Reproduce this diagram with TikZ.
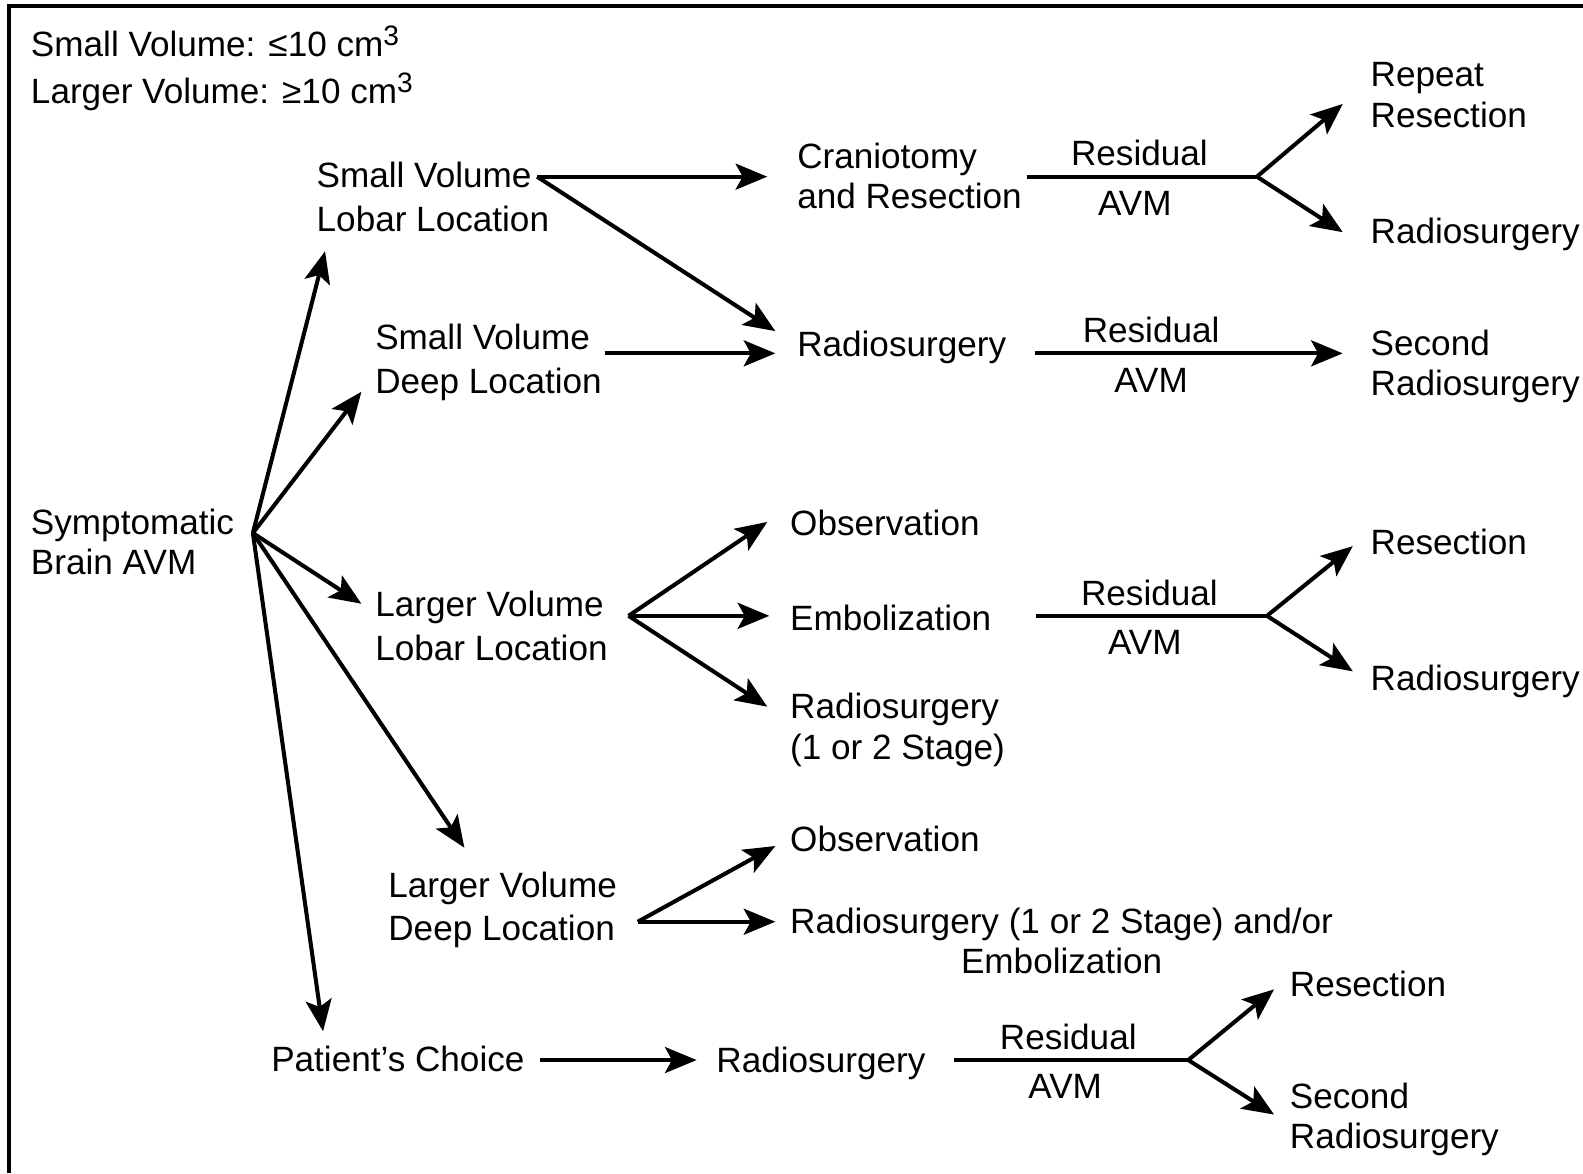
\documentclass[tikz,border=0pt]{standalone}
\usepackage{fontspec}
\setmainfont{Liberation Sans}
\usetikzlibrary{arrows.meta}
\tikzset{
    flow text/.style={
        inner sep=0pt, anchor=west, align=left,
        font=\fontsize{10}{11.5}\selectfont
    },
    wide spacing/.style={font=\fontsize{10}{12.3}\selectfont},
    flow label/.style={inner sep=0pt, font=\fontsize{10}{11.5}\selectfont},
    flow line/.style={line width=1.15pt},
    flow arrow/.style={
        line width=1.15pt,
        -{Stealth[length=9pt,width=7.4pt,inset=2pt]}
    }
}
\newcommand{\cubed}{\raisebox{0.55ex}{\fontsize{8}{8}\selectfont 3}}

\begin{document}
\begin{tikzpicture}[x=0.010096cm, y=-0.010096cm]
    \useasboundingbox (0,0) rectangle (1568,1162);
    \draw[line width=1.1pt] (9,1162) |- (1568,6);

    % legend
    \node[flow text] (small) at (30,41) {Small Volume: ≤10 cm\cubed};
    \node[flow text] (larger) at (30,91) {Larger Volume: ≥10 cm\cubed};

    % first level
    \node[flow text] (sba) at (30,537) {Symptomatic\\Brain AVM};
    \node[flow text, wide spacing] (svl) at (313,195) {Small Volume\\Lobar Location};
    \node[flow text, wide spacing] (svd) at (371,359) {Small Volume\\Deep Location};
    \node[flow text, wide spacing] (lvl) at (371,620) {Larger Volume\\Lobar Location};
    \node[flow text, wide spacing] (lvd) at (384,901) {Larger Volume\\Deep Location};
    \node[flow text] (pc) at (268,1049) {Patient’s Choice};

    % treatments
    \node[flow text] (cran) at (789,174) {Craniotomy\\and Resection};
    \node[flow text] (rs1) at (789,344) {Radiosurgery};
    \node[flow text] (obs1) at (782,518) {Observation};
    \node[flow text] (emb) at (782,612) {Embolization};
    \node[flow text] (rs2) at (782,723) {Radiosurgery\\(1 or 2 Stage)};
    \node[flow text] (obs2) at (782,831) {Observation};
    \node[flow text, align=center] (rse) at (782,932) {Radiosurgery (1 or 2 Stage) and/or\\Embolization};
    \node[flow text] (rs3) at (709,1053) {Radiosurgery};

    % after residual AVM
    \node[flow text] (rr) at (1357,94) {Repeat\\Resection};
    \node[flow text] (rs4) at (1357,232) {Radiosurgery};
    \node[flow text] (srs1) at (1357,363) {Second\\Radiosurgery};
    \node[flow text] (res1) at (1357,537) {Resection};
    \node[flow text] (rs5) at (1357,675) {Radiosurgery};
    \node[flow text] (res2) at (1277,975) {Resection};
    \node[flow text] (srs2) at (1277,1109) {Second\\Radiosurgery};

    % branch points
    \coordinate (fork0) at ([shift={(18,-9)}]sba.east);
    \coordinate (fork1) at (532,175);
    \coordinate (fork2) at (1245,175);
    \coordinate (fork3) at ([shift={(20,-10)}]lvl.east);
    \coordinate (fork4) at (1255,610);
    \coordinate (fork5) at ([shift={(20,12)}]lvd.east);
    \coordinate (fork6) at (1177,1050);

    \draw[flow arrow] (fork0) -- ([shift={(9,19)}]svl.south west);
    \draw[flow arrow] (fork0) -- ([shift={(-13,29)}]svd.west);
    \draw[flow arrow] (fork0) -- ([shift={(-13,-22)}]lvl.west);
    \draw[flow arrow] (fork0) -- ([shift={(76,-23)}]lvd.north west);
    \draw[flow arrow] (fork0) -- ([shift={(52,-14)}]pc.north west);

    \draw[flow arrow] (fork1) -- ([shift={(-29,1)}]cran.west);
    \draw[flow arrow] (fork1) -- ([shift={(-21,-16)}]rs1.west);
    \draw[flow arrow] ([shift={(2,-9)}]svd.east) -- ([shift={(-21,6)}]rs1.west);

    \draw[flow line] ([shift={(4,1)}]cran.east) -- node[flow label, above=2.4pt, pos=.49] {Residual}
        node[flow label, below=3.6pt, pos=.47] {AVM} (fork2);
    \draw[flow arrow] (fork2) -- ([shift={(-27,9)}]rr.west);
    \draw[flow arrow] (fork2) -- ([shift={(-27,-2)}]rs4.west);

    \draw[flow arrow] ([shift={(28,6)}]rs1.east) -- node[flow label, above=2.4pt, pos=.377] {Residual}
        node[flow label, below=3.6pt, pos=.377] {AVM} ([shift={(-27,-13)}]srs1.west);

    \draw[flow arrow] (fork3) -- ([shift={(-22,-1)}]obs1.west);
    \draw[flow arrow] (fork3) -- ([shift={(-20,-2)}]emb.west);
    \draw[flow arrow] (fork3) -- ([shift={(-22,-23)}]rs2.west);
    \draw[flow line] ([shift={(44,-2)}]emb.east) -- node[flow label, above=2.4pt, pos=.49] {Residual}
        node[flow label, below=3.6pt, pos=.47] {AVM} (fork4);
    \draw[flow arrow] (fork4) -- ([shift={(-17,4)}]res1.west);
    \draw[flow arrow] (fork4) -- ([shift={(-17,-10)}]rs5.west);

    \draw[flow arrow] (fork5) -- ([shift={(-14,7)}]obs2.west);
    \draw[flow arrow] (fork5) -- ([shift={(-14,-19)}]rse.west);

    \draw[flow arrow] ([shift={(15,1)}]pc.east) -- ([shift={(-19,-3)}]rs3.west);
    \draw[flow line] ([shift={(28,-3)}]rs3.east) -- node[flow label, above=2.4pt, pos=.487] {Residual}
        node[flow label, below=3.6pt, pos=.474] {AVM} (fork6);
    \draw[flow arrow] (fork6) -- ([shift={(-15,5)}]res2.west);
    \draw[flow arrow] (fork6) -- ([shift={(-15,-5)}]srs2.west);
\end{tikzpicture}
\end{document}
